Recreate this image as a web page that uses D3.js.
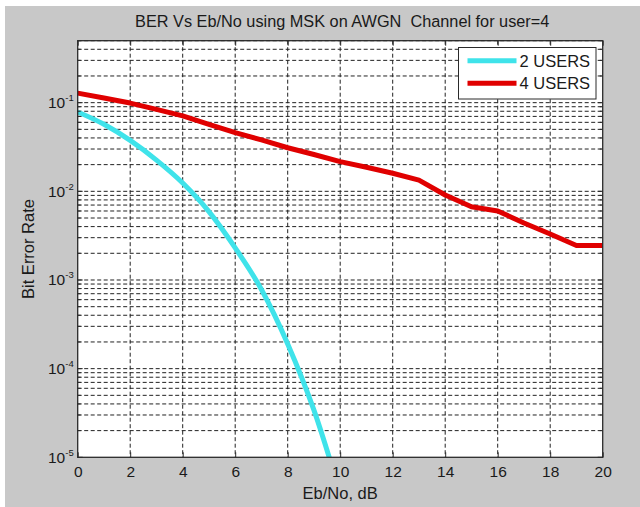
<!DOCTYPE html>
<html>
<head>
<meta charset="utf-8">
<title>BER Vs Eb/No using MSK</title>
<script src="https://cdn.jsdelivr.net/npm/d3@7"></script>
<style>
    body { margin: 0; background: #ffffff; }
    text { font-family: "Liberation Sans", Arial, sans-serif; fill: #1a1a1a; }
    .grid line { stroke: #222; stroke-width: 1; stroke-dasharray: 4,2.5; }
</style>
</head>
<body>
<script>
// data
var ebno2 = [0, 1, 2, 3, 4, 5, 6, 7, 8, 9, 10];
var ber2users = [0.0786, 0.057, 0.0375, 0.0225, 0.0124, 0.0059, 0.0023, 0.00078, 0.00019, 0.000034, 0.0000039];

var ebno4 = [0, 1, 2, 3, 4, 5, 6, 7, 8, 9, 10, 11, 12, 13, 14, 15, 16, 17, 18, 19, 20];
var ber4users = [0.128, 0.113, 0.099, 0.084, 0.071, 0.057, 0.046, 0.038, 0.031, 0.026, 0.0216,
                 0.0187, 0.016, 0.0134, 0.0091, 0.0067, 0.006, 0.0044, 0.0033, 0.00245, 0.00245];

var xTicks = [0, 2, 4, 6, 8, 10, 12, 14, 16, 18, 20];
var yDecades = [-5, -4, -3, -2, -1];
var seriesNames = ["2 USERS", "4 USERS"];
var seriesColors = ["#3fe3ea", "#e00000"];

var W = 640, H = 507;
var margin = {top: 40.7, right: 37.3, bottom: 49.7, left: 77.7};
var width = W - margin.left - margin.right;
var height = H - margin.top - margin.bottom;

var svg = d3.select("body").append("svg")
    .attr("width", W)
    .attr("height", H);

// figure background
svg.append("rect")
    .attr("x", 5).attr("y", 6)
    .attr("width", W - 5).attr("height", H - 6)
    .attr("fill", "#c8c8c8");

var g = svg.append("g")
    .attr("transform", "translate(" + margin.left + "," + margin.top + ")");

var x = d3.scaleLinear().domain([0, 20]).range([0, width]);
var y = d3.scaleLog().domain([1e-5, 0.5]).range([height, 0]);

g.append("rect")
    .attr("width", width).attr("height", height)
    .attr("fill", "#ffffff");

// minor + major log positions
var yGridVals = [];
yDecades.forEach(function(e) {
    for (var m = 1; m <= 9; m++) {
        var v = m * Math.pow(10, e);
        if (v <= 0.5) yGridVals.push(v);
    }
});

var grid = g.append("g").attr("class", "grid");
grid.selectAll(".hg").data(yGridVals.filter(function(v) { return v > 1e-5; }))
    .enter().append("line")
    .attr("x1", 0).attr("x2", width)
    .attr("y1", function(d) { return y(d); })
    .attr("y2", function(d) { return y(d); });
grid.selectAll(".vg").data(xTicks.filter(function(v) { return v > 0 && v < 20; }))
    .enter().append("line")
    .attr("x1", function(d) { return x(d); })
    .attr("x2", function(d) { return x(d); })
    .attr("y1", 0).attr("y2", height);

// curves
svg.append("clipPath").attr("id", "plotclip")
    .append("rect").attr("width", width).attr("height", height);

var line2 = d3.line()
    .x(function(d, i) { return x(ebno2[i]); })
    .y(function(d) { return y(d); })
    .curve(d3.curveMonotoneX);
var line4 = d3.line()
    .x(function(d, i) { return x(ebno4[i]); })
    .y(function(d) { return y(d); });

var curves = g.append("g").attr("clip-path", "url(#plotclip)");
curves.append("path").datum(ber2users)
    .attr("d", line2)
    .attr("fill", "none")
    .attr("stroke", seriesColors[0])
    .attr("stroke-width", 5)
    .attr("stroke-linejoin", "round");
curves.append("path").datum(ber4users)
    .attr("d", line4)
    .attr("fill", "none")
    .attr("stroke", seriesColors[1])
    .attr("stroke-width", 5)
    .attr("stroke-linejoin", "round");

// axes box and inward ticks
var axisColor = "#2a2a2a";
g.append("rect")
    .attr("width", width).attr("height", height)
    .attr("fill", "none")
    .attr("stroke", axisColor)
    .attr("stroke-width", 1.3);

var bottomAxis = d3.axisBottom(x).tickValues(xTicks).tickSize(-5).tickSizeOuter(0).tickFormat(d3.format("d"));
var topAxis = d3.axisTop(x).tickValues(xTicks).tickSize(-5).tickSizeOuter(0).tickFormat("");
var gx = g.append("g").attr("transform", "translate(0," + height + ")").call(bottomAxis);
var gxt = g.append("g").call(topAxis);
[gx, gxt].forEach(function(a) {
    a.select(".domain").remove();
    a.selectAll("line").attr("stroke", axisColor);
});
gx.selectAll("text")
    .attr("y", 9)
    .attr("dy", "0.71em")
    .style("font-size", "15.5px")
    .style("font-family", "Liberation Sans, Arial, sans-serif")
    .attr("fill", "#1a1a1a");

// y ticks: major 5px, minor 3px, both sides
var yTickVals = yGridVals.filter(function(v) { return v > 1e-5; }).concat([1e-5]);
var yt = g.append("g");
yTickVals.forEach(function(v) {
    var isMajor = Math.abs(Math.log10(v) - Math.round(Math.log10(v))) < 1e-9;
    var len = isMajor ? 5 : 3;
    yt.append("line").attr("x1", 0).attr("x2", len)
        .attr("y1", y(v)).attr("y2", y(v)).attr("stroke", axisColor);
    yt.append("line").attr("x1", width - len).attr("x2", width)
        .attr("y1", y(v)).attr("y2", y(v)).attr("stroke", axisColor);
});

// y tick labels as 10^e
var ylab = g.selectAll(".ylab").data(yDecades).enter().append("text")
    .attr("x", -4)
    .attr("y", function(d) { return y(Math.pow(10, d)) + 5.5; })
    .attr("text-anchor", "end")
    .style("font-size", "15.5px");
ylab.append("tspan").text("10");
ylab.append("tspan")
    .attr("dy", -7)
    .style("font-size", "9.5px")
    .text(function(d) { return "-" + Math.abs(d); });

// titles
svg.append("text")
    .attr("x", margin.left + width / 2 + 2)
    .attr("y", 27)
    .attr("text-anchor", "middle")
    .attr("xml:space", "preserve")
    .style("font-size", "16.3px")
    .text("BER Vs Eb/No using MSK on AWGN  Channel for user=4");

svg.append("text")
    .attr("x", margin.left + width / 2)
    .attr("y", 499)
    .attr("text-anchor", "middle")
    .style("font-size", "16.5px")
    .text("Eb/No, dB");

svg.append("text")
    .attr("transform", "translate(34," + (margin.top + height / 2) + ") rotate(-90)")
    .attr("text-anchor", "middle")
    .style("font-size", "16.5px")
    .text("Bit Error Rate");

// legend
var legend = svg.append("g").attr("transform", "translate(458.5,47.5)");
legend.append("rect")
    .attr("width", 137.5).attr("height", 51.5)
    .attr("fill", "#ffffff")
    .attr("stroke", axisColor)
    .attr("stroke-width", 1);
seriesNames.forEach(function(name, i) {
    var yy = 13.2 + i * 22.6;
    legend.append("line")
        .attr("x1", 9).attr("x2", 58)
        .attr("y1", yy).attr("y2", yy)
        .attr("stroke", seriesColors[i])
        .attr("stroke-width", 5);
    legend.append("text")
        .attr("x", 61).attr("y", yy + 5.8)
        .style("font-size", "16.5px")
        .text(name);
});
</script>
</body>
</html>
